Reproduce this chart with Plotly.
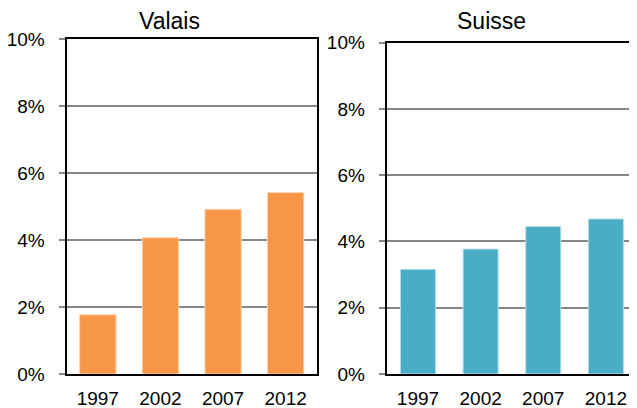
import plotly.graph_objects as go

years = ["1997", "2002", "2007", "2012"]
valais = [1.77, 4.07, 4.92, 5.42]
suisse = [3.16, 3.77, 4.45, 4.68]
y_ticks = [0, 2, 4, 6, 8, 10]
y_labels = ["0%", "2%", "4%", "6%", "8%", "10%"]

W, H = 637, 408
FONT = "Liberation Sans, Arial, sans-serif"
GRID = "#868686"
# the page body adds 8px on top and left, so positions below are shifted back
OFF = 8

fig = go.Figure()

fig.add_trace(
    go.Bar(
        x=years, y=valais, xaxis="x", yaxis="y",
        marker={"color": "#F79646", "line": {"color": "#FCD5B4", "width": 1}},
        width=0.58,
    )
)
fig.add_trace(
    go.Bar(
        x=years, y=suisse, xaxis="x2", yaxis="y2",
        marker={"color": "#4BACC6", "line": {"color": "#B7DEE8", "width": 1}},
        width=0.56,
    )
)

common_y = {
    "range": [0, 10],
    "tickmode": "array",
    "tickvals": y_ticks,
    "ticktext": y_labels,
    "showgrid": True,
    "gridcolor": GRID,
    "gridwidth": 1.5,
    "ticks": "outside",
    "ticklen": 6,
    "tickcolor": GRID,
    "tickwidth": 1.5,
    "ticklabelstandoff": 10,
    "showline": True,
    "linecolor": "black",
    "linewidth": 2,
    "zeroline": False,
    "tickfont": {"size": 19, "color": "black", "family": FONT},
    "automargin": False,
}
common_x = {
    "type": "category",
    "range": [-0.5, 3.5],
    "showline": True,
    "linecolor": "black",
    "linewidth": 2,
    "ticks": "",
    "ticklabelstandoff": 6,
    "showgrid": False,
    "tickfont": {"size": 19, "color": "black", "family": FONT},
    "automargin": False,
}


def xdom(a, b):
    return [(a - OFF) / W, (b - OFF) / W]


def ydom(top, bottom):
    return [(H - (bottom - OFF)) / H, (H - (top - OFF)) / H]


fig.update_layout(
    width=W,
    height=H,
    margin={"l": 0, "r": 0, "t": 0, "b": 0},
    paper_bgcolor="white",
    plot_bgcolor="white",
    showlegend=False,
    font={"family": FONT, "color": "black"},
    xaxis={**common_x, "domain": xdom(66.5, 317), "anchor": "y", "mirror": True},
    yaxis={**common_y, "domain": ydom(39.3, 374), "anchor": "x", "mirror": True},
    xaxis2={**common_x, "domain": xdom(386.7, 637.2), "anchor": "y2", "mirror": True},
    yaxis2={**common_y, "domain": ydom(42.7, 374), "anchor": "x2"},
    annotations=[
        {"text": "Valais", "x": (169.5 - OFF) / W, "y": 1 - (21 - OFF) / H,
         "xref": "paper", "yref": "paper", "showarrow": False,
         "xanchor": "center", "yanchor": "middle",
         "font": {"size": 23, "color": "black"}},
        {"text": "Suisse", "x": (491.5 - OFF) / W, "y": 1 - (21 - OFF) / H,
         "xref": "paper", "yref": "paper", "showarrow": False,
         "xanchor": "center", "yanchor": "middle",
         "font": {"size": 23, "color": "black"}},
    ],
)

fig.write_html("out.html")
